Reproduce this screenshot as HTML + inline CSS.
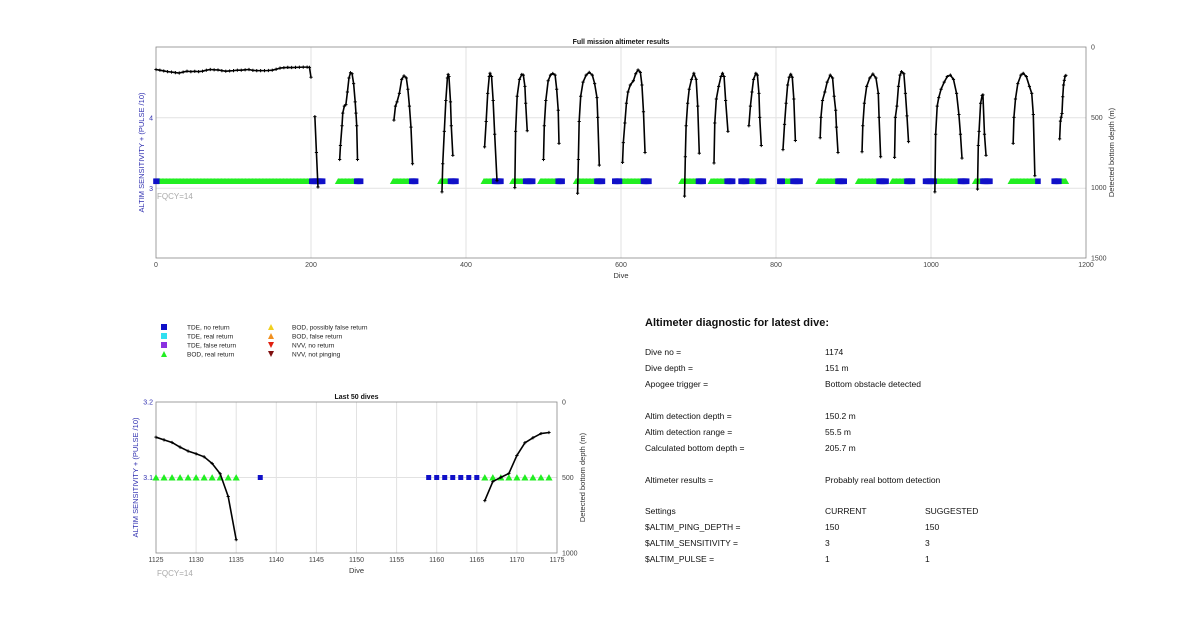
<!DOCTYPE html>
<html><head><meta charset="utf-8"><style>
body{margin:0;background:#fff;width:1200px;height:622px;overflow:hidden;font-family:"Liberation Sans",Arial,sans-serif}
svg text{font-family:"Liberation Sans",Arial,sans-serif}
</style></head><body>
<svg id="s" width="1200" height="622" xmlns="http://www.w3.org/2000/svg">
<g font-size="6.5" fill="#222">
<rect x="161" y="324" width="6" height="6" fill="#1010c8"/><text x="187" y="329.5">TDE, no return</text>
<rect x="161" y="333" width="6" height="6" fill="#30e0f0"/><text x="187" y="338.5">TDE, real return</text>
<rect x="161" y="342" width="6" height="6" fill="#8a30e0"/><text x="187" y="347.5">TDE, false return</text>
<polygon points="161,357 164,351 167,357" fill="#22ee22"/><text x="187" y="356.5">BOD, real return</text>
<polygon points="268,330 271,324 274,330" fill="#f0d020"/><text x="292" y="329.5">BOD, possibly false return</text>
<polygon points="268,339 271,333 274,339" fill="#f09020"/><text x="292" y="338.5">BOD, false return</text>
<polygon points="268,342 274,342 271,348" fill="#e02010"/><text x="292" y="347.5">NVV, no return</text>
<polygon points="268,351 274,351 271,357" fill="#801010"/><text x="292" y="356.5">NVV, not pinging</text>
</g>
<g font-size="8.5" fill="#111">
<text x="645" y="326" font-size="11" font-weight="bold">Altimeter diagnostic for latest dive:</text>
<text x="645" y="355">Dive no =</text><text x="825" y="355">1174</text>
<text x="645" y="371">Dive depth =</text><text x="825" y="371">151 m</text>
<text x="645" y="387">Apogee trigger =</text><text x="825" y="387">Bottom obstacle detected</text>
<text x="645" y="419">Altim detection depth =</text><text x="825" y="419">150.2 m</text>
<text x="645" y="435">Altim detection range =</text><text x="825" y="435">55.5 m</text>
<text x="645" y="451">Calculated bottom depth =</text><text x="825" y="451">205.7 m</text>
<text x="645" y="483">Altimeter results =</text><text x="825" y="483">Probably real bottom detection</text>
<text x="645" y="514">Settings</text><text x="825" y="514">CURRENT</text><text x="925" y="514">SUGGESTED</text>
<text x="645" y="530">$ALTIM_PING_DEPTH =</text><text x="825" y="530">150</text><text x="925" y="530">150</text>
<text x="645" y="546">$ALTIM_SENSITIVITY =</text><text x="825" y="546">3</text><text x="925" y="546">3</text>
<text x="645" y="562">$ALTIM_PULSE =</text><text x="825" y="562">1</text><text x="925" y="562">1</text>
</g>
</svg>
<script>
// ---- Top chart data ----
const topXTicks=[0,200,400,600,800,1000,1200];
const topLeftTicks=[3,4];
const topRightTicks=[0,500,1000,1500];
const greenRanges=[[2,200],[235,259],[306,330],[367,380],[423,437],[460,477],[496,519],[542,569],[599,629],[678,700],[716,737],[763,777],[809,822],[855,880],[906,933],[950,969],[1005,1038],[1057,1067],[1103,1135],[1166,1174]];
const blueRanges=[[0,1],[201,215],[259,264],[330,335],[380,387],[437,445],[477,486],[519,524],[569,576],[592,598],[629,636],[700,706],[737,744],[755,762],[777,784],[805,808],[822,831],[880,888],[933,942],[969,976],[993,1004],[1038,1046],[1067,1076],[1138,1138],[1159,1165]];
const markerLevel=3.1;
const arcs=[
[[0,160],[5,165],[10,170],[15,175],[20,178],[25,182],[30,185],[35,178],[40,172],[45,175],[50,173],[55,175],[60,172],[65,165],[70,160],[75,162],[80,163],[85,168],[90,172],[95,170],[100,168],[105,165],[110,165],[115,162],[120,160],[125,166],[130,168],[135,168],[140,168],[145,167],[150,165],[155,158],[160,150],[165,147],[170,145],[175,146],[180,145],[185,144],[190,143],[195,143],[198,145],[200,215]],
[[205,495],[207,750],[209,995]],
[[237,800],[238,700],[240,560],[241,470],[243,420],[245,410],[247,320],[249,220],[251,183],[253,190],[255,260],[257,390],[258,470],[259,560],[260,800]],
[[307,520],[309,420],[311,390],[314,330],[317,230],[320,205],[323,220],[325,300],[327,420],[329,570],[331,830]],
[[369,1030],[370,830],[372,600],[374,380],[376,220],[377,195],[378,210],[380,390],[381,560],[383,770]],
[[424,710],[426,530],[428,330],[430,210],[431,187],[433,210],[435,380],[437,620],[440,950]],
[[463,1000],[464,600],[466,350],[469,230],[472,195],[474,200],[476,280],[477,400],[479,595]],
[[500,800],[501,560],[503,380],[506,240],[509,200],[512,188],[515,200],[517,300],[519,450],[520,685]],
[[544,1040],[545,800],[546,530],[548,350],[551,250],[555,200],[559,180],[563,200],[566,260],[569,360],[570,500],[572,840]],
[[602,820],[603,680],[605,540],[607,400],[609,320],[612,270],[616,240],[619,190],[622,163],[625,180],[627,270],[629,460],[631,750]],
[[682,1060],[683,780],[684,560],[686,400],[688,300],[691,230],[694,187],[697,230],[699,420],[701,755]],
[[720,825],[721,540],[723,370],[726,280],[729,210],[731,187],[733,210],[735,380],[738,600]],
[[765,560],[767,420],[769,320],[771,230],[774,187],[776,200],[778,330],[779,500],[781,700]],
[[809,730],[811,550],[813,400],[815,270],[817,215],[819,194],[821,215],[823,370],[825,665]],
[[857,645],[858,500],[860,380],[863,320],[866,250],[870,200],[873,220],[875,350],[877,450],[878,570],[880,750]],
[[911,745],[912,560],[914,400],[917,280],[921,220],[925,192],[929,220],[932,330],[933,500],[935,780]],
[[953,785],[954,500],[956,420],[958,280],[960,200],[962,175],[965,190],[967,330],[969,490],[971,673]],
[[1005,1030],[1006,620],[1008,420],[1010,360],[1013,300],[1017,250],[1021,210],[1025,200],[1029,230],[1033,330],[1036,480],[1038,620],[1040,790]],
[[1060,1010],[1061,700],[1062,600],[1064,400],[1066,345],[1067,340],[1069,620],[1071,770]],
[[1106,685],[1107,500],[1109,370],[1112,260],[1116,200],[1119,187],[1123,210],[1127,280],[1130,330],[1132,480],[1134,915]],
[[1166,653],[1167,527],[1168,499],[1169,473],[1170,354],[1171,270],[1172,237],[1173,209],[1174,202]]
];
// ---- Bottom chart data ----
const botXTicks=[1125,1130,1135,1140,1145,1150,1155,1160,1165,1170,1175];
const botLeftTicks=[3.1,3.2];
const botRightTicks=[0,500,1000];
const botGreenDives=[1125,1126,1127,1128,1129,1130,1131,1132,1133,1134,1135,1166,1167,1168,1169,1170,1171,1172,1173,1174];
const botBlueDives=[1138,1159,1160,1161,1162,1163,1164,1165];
const botLineA=[[1125,233],[1126,251],[1127,268],[1128,299],[1129,325],[1130,343],[1131,363],[1132,407],[1133,475],[1134,626],[1135,912]];
const botLineB=[[1166,653],[1167,527],[1168,499],[1169,473],[1170,354],[1171,270],[1172,237],[1173,209],[1174,202]];

const NS='http://www.w3.org/2000/svg';
const svg=document.getElementById('s');
function mk(tag,attrs,parent,text){const e=document.createElementNS(NS,tag);for(const k in attrs)e.setAttribute(k,attrs[k]);if(text!==undefined)e.textContent=text;(parent||svg).appendChild(e);return e;}

function drawChart(cfg){
  const g=mk('g',{});
  
  
  const {x0,x1,y0,y1}=cfg;
  // grid
  cfg.xTicks.forEach(t=>{const x=cfg.xs(t);
    if(x>x0+1&&x<x1-1){const l=mk('line',{x1:x,x2:x,y1:y0,y2:y1,stroke:'#e2e2e2','stroke-width':1},g);
    
    }
    const tl=mk('text',{x:x,y:y1+9,'font-size':7,'text-anchor':'middle',fill:'#444'},g,String(t));
    
    
  });
  cfg.lTicks.forEach(t=>{const y=cfg.yl(t);
    if(y>y0+1&&y<y1-1){const l=mk('line',{x1:x0,x2:x1,y1:y,y2:y,stroke:'#e2e2e2','stroke-width':1},g);
    
    }
    const tl=mk('text',{x:x0-3,y:y+2.5,'font-size':7,'text-anchor':'end',fill:'#3030b0'},g,String(t));
    
    
  });
  cfg.rTicks.forEach(t=>{const y=cfg.yr(t);
    const tl=mk('text',{x:x1+5,y:y+2.5,'font-size':7,fill:'#444'},g,String(t));
    
    
  });
  const box=mk('rect',{x:x0,y:y0,width:x1-x0,height:y1-y0,fill:'none',stroke:'#888','stroke-width':0.8},g);
  
  
  const ti=mk('text',{x:(x0+x1)/2,y:y0-3,'font-size':7,'font-weight':'bold','text-anchor':'middle',fill:'#111'},g,cfg.title);
  
  
  const xl=mk('text',{x:(x0+x1)/2,y:y1+20,'font-size':7.5,'text-anchor':'middle',fill:'#333'},g,'Dive');
  
  
  const cy=(y0+y1)/2+cfg.lOff;
  const ll=mk('text',{x:cfg.lx,y:cy,'font-size':7.5,'text-anchor':'middle',fill:'#3030b0',transform:`rotate(-90 ${cfg.lx} ${cy})`},g,'ALTIM SENSITIVITY + (PULSE /10)');
  
  
  const cr=(y0+y1)/2;
  const rl=mk('text',{x:cfg.rx,y:cr,'font-size':7.5,'text-anchor':'middle',fill:'#333',transform:`rotate(-90 ${cfg.rx} ${cr})`},g,'Detected bottom depth (m)');
  
  
  const fq=mk('text',{x:x0+1,y:cfg.fqy,'font-size':8,fill:'#aaa'},g,'FQCY=14');
  
  
  return g;
}
function tri(g,x,y,s,c){const p=mk('polygon',{points:`${x-s},${y+s*0.85} ${x},${y-s*0.95} ${x+s},${y+s*0.85}`,fill:c},g);
  
  }
function sq(g,x,y,s,c){const r=mk('rect',{x:x-s,y:y-s,width:2*s,height:2*s,fill:c},g);
  
  }
function line(g,pts,xs,ys,w,ms){
  const p=mk('polyline',{points:pts.map(q=>xs(q[0])+','+ys(q[1])).join(' '),fill:'none',stroke:'#000','stroke-width':w,'stroke-linejoin':'round'},g);
  
  
  pts.forEach(q=>{const x=xs(q[0]),y=ys(q[1]);
    const m=mk('path',{d:`M${x-ms},${y}H${x+ms}M${x},${y-ms}V${y+ms}`,stroke:'#000','stroke-width':1},g);
    
    });
}

// Top chart
const T={name:'full-mission-chart',x0:156,x1:1086,y0:47,y1:258,title:'Full mission altimeter results',
 xs:d=>156+d*930/1200, yl:v=>188.3-(v-3)*70.5, yr:d=>47+d*211/1500,
 xTicks:topXTicks,lTicks:topLeftTicks,rTicks:topRightTicks,lx:144,rx:1114,lOff:0,fqy:199};
const gT=drawChart(T);
greenRanges.forEach(r=>{for(let d=r[0];d<=r[1];d++)tri(gT,T.xs(d),T.yl(markerLevel),3.3,'#22ee22');});
blueRanges.forEach(r=>{for(let d=r[0];d<=r[1];d++)sq(gT,T.xs(d),T.yl(markerLevel),2.8,'#1010c8');});
arcs.forEach(a=>line(gT,a,T.xs,T.yr,1.6,1.6));

// Bottom chart
const B={name:'last-50-dives-chart',x0:156,x1:557,y0:402,y1:553,title:'Last 50 dives',
 xs:d=>156+(d-1125)*401/50, yl:v=>402+(3.2-v)*151/0.2, yr:d=>402+d*151/1000,
 xTicks:botXTicks,lTicks:botLeftTicks,rTicks:botRightTicks,lx:138,rx:585,lOff:0,fqy:576};
const gB=drawChart(B);
botGreenDives.forEach(d=>tri(gB,B.xs(d),B.yl(markerLevel),3.6,'#22ee22'));
botBlueDives.forEach(d=>sq(gB,B.xs(d),B.yl(markerLevel),2.5,'#1010c8'));
line(gB,botLineA,B.xs,B.yr,1.6,1.6);
line(gB,botLineB,B.xs,B.yr,1.6,1.6);
</script>
</body></html>
